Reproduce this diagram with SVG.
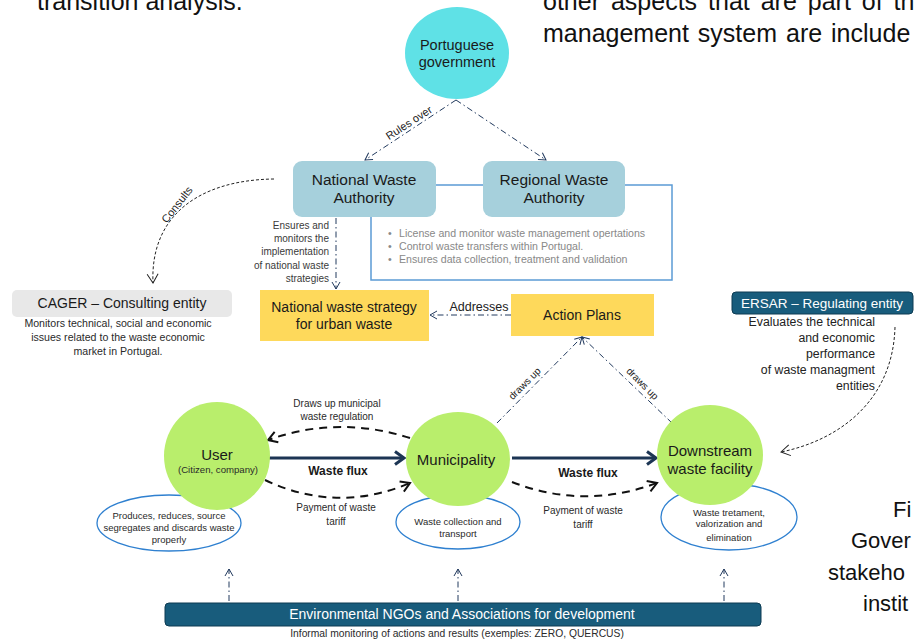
<svg xmlns="http://www.w3.org/2000/svg" width="915" height="642" viewBox="0 0 915 642">
<defs>
<style>
text{font-family:"Liberation Sans",Arial,sans-serif;fill:#222}
.para{font-size:25px;fill:#111}
.cap{font-size:22px;fill:#111}
.box{font-size:15.5px;text-anchor:middle;fill:#1a1a1a}
.small{font-size:10px;fill:#3a3a3a}
.mid{text-anchor:middle}
.end{text-anchor:end}
.dd{fill:none;stroke:#223a5e;stroke-width:1;stroke-dasharray:6 3 1.5 3}
.dk{fill:none;stroke:#111;stroke-width:2;stroke-dasharray:8 6}
.dot{fill:none;stroke:#222;stroke-width:1;stroke-dasharray:3 2}
.flux{fill:none;stroke:#1c3554;stroke-width:3}
.wf{font-size:12px;font-weight:bold;text-anchor:middle;fill:#1a1a1a}
.green{fill:#b9ee6c}
.descE{fill:#fff;stroke:#2f80d0;stroke-width:1.3}
.desc{font-size:9.5px;text-anchor:middle;fill:#2a2a2a}
.teal{fill:#185c7c;stroke:#0d3b52;stroke-width:1}
.bul{font-size:10.6px;fill:#888}
.ers{font-size:12.3px;fill:#222;text-anchor:end}
</style>
<marker id="ah" markerWidth="10" markerHeight="10" refX="8" refY="5" orient="auto" markerUnits="userSpaceOnUse">
<path d="M1,1 L8,5 L1,9" fill="none" stroke="#223a5e" stroke-width="1"/>
</marker>
<marker id="ahk" markerWidth="14" markerHeight="14" refX="11" refY="7" orient="auto" markerUnits="userSpaceOnUse">
<path d="M2,1.5 L11,7 L2,12.5" fill="none" stroke="#111" stroke-width="2"/>
</marker>
<marker id="ahd" markerWidth="14" markerHeight="14" refX="11" refY="7" orient="auto" markerUnits="userSpaceOnUse">
<path d="M2,1.5 L11,7 L2,12.5" fill="none" stroke="#222" stroke-width="1"/>
</marker>
<marker id="ahf" markerWidth="16" markerHeight="16" refX="12" refY="8" orient="auto" markerUnits="userSpaceOnUse">
<path d="M3,1.5 L12,8 L3,14.5" fill="none" stroke="#1c3554" stroke-width="3"/>
</marker>
</defs>

<!-- cropped surrounding page text, as printed in the reference -->
<g id="page-text">
<text class="para" x="37" y="10">transition analysis.</text>
<text class="para" x="543" y="10" word-spacing="4">other aspects that are part of th</text>
<text class="para" x="543" y="42" word-spacing="2">management system are include</text>
<text class="cap" x="893" y="517">Fi</text>
<text class="cap" x="851" y="548">Gover</text>
<text class="cap" x="828" y="580">stakeho</text>
<text class="cap" x="863" y="611">instit</text>
</g>

<!-- regional info frame -->
<g id="regional-frame">
<rect x="371" y="185" width="301" height="95" fill="none" stroke="#5b9bd5" stroke-width="1.5"/>
<text x="388" y="237" class="bul">•</text>
<text x="399" y="237" class="bul">License and monitor waste management opertations</text>
<text x="388" y="250" class="bul">•</text>
<text x="399" y="250" class="bul">Control waste transfers within Portugal.</text>
<text x="388" y="263" class="bul">•</text>
<text x="399" y="263" class="bul">Ensures data collection, treatment and validation</text>
</g>

<g id="connectors">
<path class="dd" d="M456,100 L365,160" marker-end="url(#ah)"/>
<path class="dd" d="M456,100 L546,160" marker-end="url(#ah)"/>
<text transform="translate(411,126) rotate(-33)" class="mid" style="font-size:11px">Rules over</text>
<path class="dot" d="M274,179 C200,180 150,215 153,283" marker-end="url(#ahd)"/>
<text transform="translate(180,207) rotate(-52)" class="mid" style="font-size:11px">Consults</text>
<path class="dd" d="M336,218 L336,289" marker-end="url(#ah)"/>
<path class="dd" d="M511,315 L430,315" marker-end="url(#ah)"/>
<text x="479" y="311" class="mid" style="font-size:12.5px">Addresses</text>
<path class="dd" d="M497,423 L582,337" marker-end="url(#ah)"/>
<path class="dd" d="M672,423 L582,337" marker-end="url(#ah)"/>
<text transform="translate(527,386) rotate(-45)" class="mid" style="font-size:10px">draws up</text>
<text transform="translate(640,386) rotate(45)" class="mid" style="font-size:10px">draws up</text>
<path class="dot" d="M895,327 C893,400 840,440 781,452" marker-end="url(#ahd)"/>
<path class="flux" d="M269,458 L404,458" marker-end="url(#ahf)"/>
<path class="flux" d="M512,458 L656,458" marker-end="url(#ahf)"/>
<path class="dk" d="M410,438 Q338,415 268,440" marker-end="url(#ahk)"/>
<path class="dk" d="M265,480 Q337,514 410,483" marker-end="url(#ahk)"/>
<path class="dk" d="M512,482 Q584,510 657,483" marker-end="url(#ahk)"/>
<path class="dd" d="M229,601 L229,569" marker-end="url(#ah)"/>
<path class="dd" d="M458,601 L458,569" marker-end="url(#ah)"/>
<path class="dd" d="M724,601 L724,569" marker-end="url(#ah)"/>
<text x="338" y="475" class="wf">Waste flux</text>
<text x="588" y="477" class="wf">Waste flux</text>
<text x="337" y="407" class="desc" style="font-size:10px">Draws up municipal</text>
<text x="337" y="420" class="desc" style="font-size:10px">waste regulation</text>
<text x="336" y="511" class="desc" style="font-size:10px">Payment of waste</text>
<text x="336" y="525" class="desc" style="font-size:10px">tariff</text>
<text x="583" y="514" class="desc" style="font-size:10px">Payment of waste</text>
<text x="583" y="528" class="desc" style="font-size:10px">tariff</text>
</g>

<g id="gov">
<ellipse cx="457" cy="53" rx="52" ry="46" fill="#5fe1e6"/>
<text x="457" y="50" class="box" style="font-size:14.5px">Portuguese</text>
<text x="457" y="67" class="box" style="font-size:14.5px">government</text>
</g>

<g id="nwa">
<rect x="293" y="161" width="143" height="56" rx="9" fill="#a6d0dc"/>
<text x="364" y="185" class="box">National Waste</text>
<text x="364" y="203" class="box">Authority</text>
</g>

<g id="rwa">
<rect x="483" y="161" width="142" height="56" rx="9" fill="#a6d0dc"/>
<text x="554" y="185" class="box">Regional Waste</text>
<text x="554" y="203" class="box">Authority</text>
</g>

<g id="ensures-label">
<text x="329" y="229" class="small end">Ensures and</text>
<text x="329" y="242" class="small end">monitors the</text>
<text x="329" y="255" class="small end">implementation</text>
<text x="329" y="269" class="small end">of national waste</text>
<text x="329" y="282" class="small end">strategies</text>
</g>

<g id="cager">
<rect x="12" y="290" width="220" height="27" rx="5" fill="#e8e8e8"/>
<text x="122" y="308" class="box" style="font-size:14px">CAGER – Consulting entity</text>
<text x="118" y="327" class="mid" style="font-size:10.6px;fill:#2a2a2a">Monitors technical, social and economic</text>
<text x="118" y="341" class="mid" style="font-size:10.6px;fill:#2a2a2a">issues related to the waste economic</text>
<text x="118" y="355" class="mid" style="font-size:10.6px;fill:#2a2a2a">market in Portugal.</text>
</g>

<g id="strategy">
<rect x="260" y="290" width="169" height="51" fill="#fed95b"/>
<text x="344" y="312" class="box" style="font-size:14px">National waste strategy</text>
<text x="344" y="329" class="box" style="font-size:14px">for urban waste</text>
</g>

<g id="action">
<rect x="511" y="294" width="143" height="42" fill="#fed95b"/>
<text x="582" y="320" class="box" style="font-size:14px">Action Plans</text>
</g>

<g id="ersar">
<rect x="732" y="292" width="181" height="22" rx="4" class="teal"/>
<text x="822" y="308" class="box" style="font-size:13.5px;fill:#fff">ERSAR – Regulating entity</text>
<text x="875" y="326" class="ers">Evaluates the technical</text>
<text x="875" y="342" class="ers">and economic</text>
<text x="875" y="358" class="ers">performance</text>
<text x="875" y="374" class="ers">of waste managment</text>
<text x="875" y="390" class="ers">entities</text>
</g>

<g id="user">
<ellipse cx="169" cy="523" rx="72" ry="28" class="descE"/>
<text x="169" y="519" class="desc">Produces, reduces, source</text>
<text x="169" y="531" class="desc">segregates and discards waste</text>
<text x="169" y="543" class="desc">properly</text>
<ellipse cx="217" cy="456" rx="53" ry="54" class="green"/>
<text x="217" y="460" class="box" style="font-size:15px">User</text>
<text x="218" y="473" class="desc" style="font-size:9.6px">(Citizen, company)</text>
</g>

<g id="municipality">
<ellipse cx="458" cy="522" rx="62" ry="27" class="descE"/>
<text x="458" y="525" class="desc">Waste collection and</text>
<text x="458" y="537" class="desc">transport</text>
<ellipse cx="458" cy="459" rx="52" ry="47" class="green"/>
<text x="456" y="465" class="box" style="font-size:15px">Municipality</text>
</g>

<g id="downstream">
<ellipse cx="729" cy="517" rx="68" ry="33" class="descE"/>
<text x="729" y="516" class="desc">Waste tretament,</text>
<text x="729" y="527" class="desc">valorization and</text>
<text x="729" y="541" class="desc">elimination</text>
<ellipse cx="710" cy="455" rx="53" ry="50" class="green"/>
<text x="710" y="456" class="box" style="font-size:15px">Downstream</text>
<text x="710" y="474" class="box" style="font-size:15px">waste facility</text>
</g>

<g id="ngo">
<rect x="165" y="603" width="596" height="23" rx="4" class="teal"/>
<text x="462" y="619" class="box" style="font-size:14px;fill:#fff">Environmental NGOs and Associations for development</text>
<text x="457" y="637" class="desc" style="font-size:10.3px">Informal  monitoring of actions and results (exemples: ZERO, QUERCUS)</text>
</g>
</svg>
